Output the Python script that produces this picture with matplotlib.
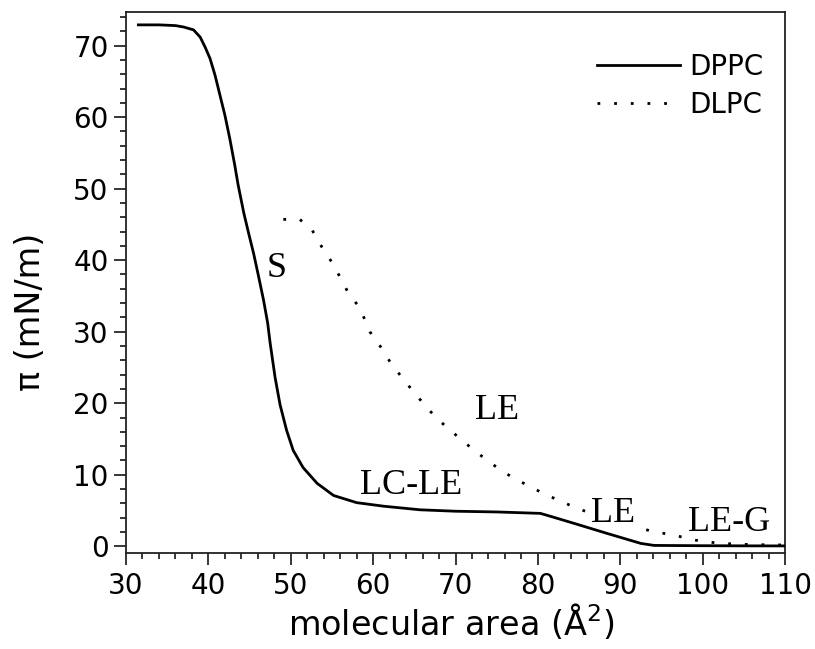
import numpy as np
import matplotlib
matplotlib.use('Agg')
import matplotlib.pyplot as plt
from matplotlib.ticker import MultipleLocator

plt.rcParams['font.family'] = ['DejaVu Sans']
plt.rcParams['mathtext.fontset'] = 'dejavusans'

# isotermas (area em A^2, pressao em mN/m)
dppc_area = [31.5, 34.0, 36.0, 37.0, 38.2, 39.0, 39.6, 40.2, 40.8, 41.4, 42.0, 42.6,
             43.2, 43.6, 44.3, 44.9, 45.5, 46.1, 46.7, 47.2, 47.5, 48.1, 48.7, 49.5,
             50.3, 51.5, 53.2, 55.2, 58.0, 61.3, 65.7, 70.0, 75.0, 80.3, 81.5, 84.4,
             88.4, 92.5, 94.1, 100, 105, 110]
dppc_pi = [72.9, 72.9, 72.8, 72.6, 72.2, 71.2, 69.8, 68.2, 65.9, 63.1, 60.3, 57.0,
           53.3, 50.6, 46.6, 43.7, 40.9, 37.7, 34.4, 31.2, 28.4, 23.6, 19.8, 16.2,
           13.4, 11.0, 8.8, 7.1, 6.1, 5.6, 5.1, 4.9, 4.8, 4.6, 4.2, 3.2,
           1.8, 0.4, 0.12, 0.08, 0.06, 0.05]

dlpc_area = [49.1, 51.1, 52.6, 53.8, 55.0, 56.0, 57.0, 58.4, 59.6, 60.9, 62.1, 63.5,
             64.9, 66.3, 67.7, 69.4, 70.8, 72.5, 74.1, 75.8, 77.6, 79.5, 81.1, 82.7,
             84.3, 86, 88, 90, 92, 93.5, 95.3, 97.1, 98.9, 100.6, 102.4, 104.2, 107, 110]
dlpc_pi = [45.7, 45.7, 44.2, 41.8, 39.7, 37.6, 35.4, 33.3, 30.0, 27.9, 25.7, 23.6,
           21.6, 19.7, 17.9, 16.2, 14.8, 13.2, 11.8, 10.4, 9.2, 8.1, 7.1, 6.4,
           5.5, 4.8, 4.0, 3.3, 2.7, 2.2, 1.8, 1.4, 0.9, 0.6, 0.4, 0.3, 0.22, 0.18]

# rotulos das fases
fases = ['S', 'LE', 'LC-LE', 'LE', 'LE-G']
fases_x = [48.3, 75.1, 64.6, 89.1, 103.2]
fases_y = [38.9, 19.0, 8.5, 4.6, 3.3]

fig = plt.figure(figsize=(8.15, 6.49), dpi=100)
ax = fig.add_axes([126 / 815, 1 - 553 / 649, 659 / 815, 541 / 649])

ax.plot(dlpc_area, dlpc_pi, color='black', linewidth=2.0,
        linestyle=(0, (1, 5)), label='DLPC', zorder=1)
ax.plot(dppc_area, dppc_pi, color='black', linewidth=2.0,
        label='DPPC', zorder=3)

for txt, x, y in zip(fases, fases_x, fases_y):
    ax.text(x, y, txt, ha='center', va='center', fontsize=26,
            family='Liberation Serif', zorder=2,
            bbox=dict(facecolor='white', edgecolor='none', pad=0))

ax.set_xlim(30, 110)
ax.set_ylim(-0.94, 74.7)
ax.xaxis.set_major_locator(MultipleLocator(10))
ax.xaxis.set_minor_locator(MultipleLocator(2))
ax.yaxis.set_major_locator(MultipleLocator(10))
ax.yaxis.set_minor_locator(MultipleLocator(2))

ax.tick_params(which='both', direction='out', top=False, right=False, width=1.1)
ax.tick_params(which='major', length=8.5, labelsize=20)
ax.tick_params(axis='x', which='major', pad=5)
ax.tick_params(axis='y', which='major', pad=4)
ax.tick_params(which='minor', length=4.5)
for s in ax.spines.values():
    s.set_linewidth(1.3)
    s.set_color('#222222')

fig.text(451 / 815, 1 - 635 / 649, 'molecular area (Å$^2$)', ha='center', va='baseline', fontsize=24)
fig.text(31 / 815, 1 - 312 / 649, 'π (mN/m)', ha='center', va='center', fontsize=24, rotation=90)

# legenda com DPPC primeiro
handles, labels = ax.get_legend_handles_labels()
ax.legend(handles[::-1], labels[::-1], loc='upper right', bbox_to_anchor=(0.967, 0.925),
          frameon=False, fontsize=20, handlelength=3.0, handletextpad=0.32,
          labelspacing=0.38, borderpad=0, borderaxespad=0)

fig.savefig('out.png', dpi=100)
